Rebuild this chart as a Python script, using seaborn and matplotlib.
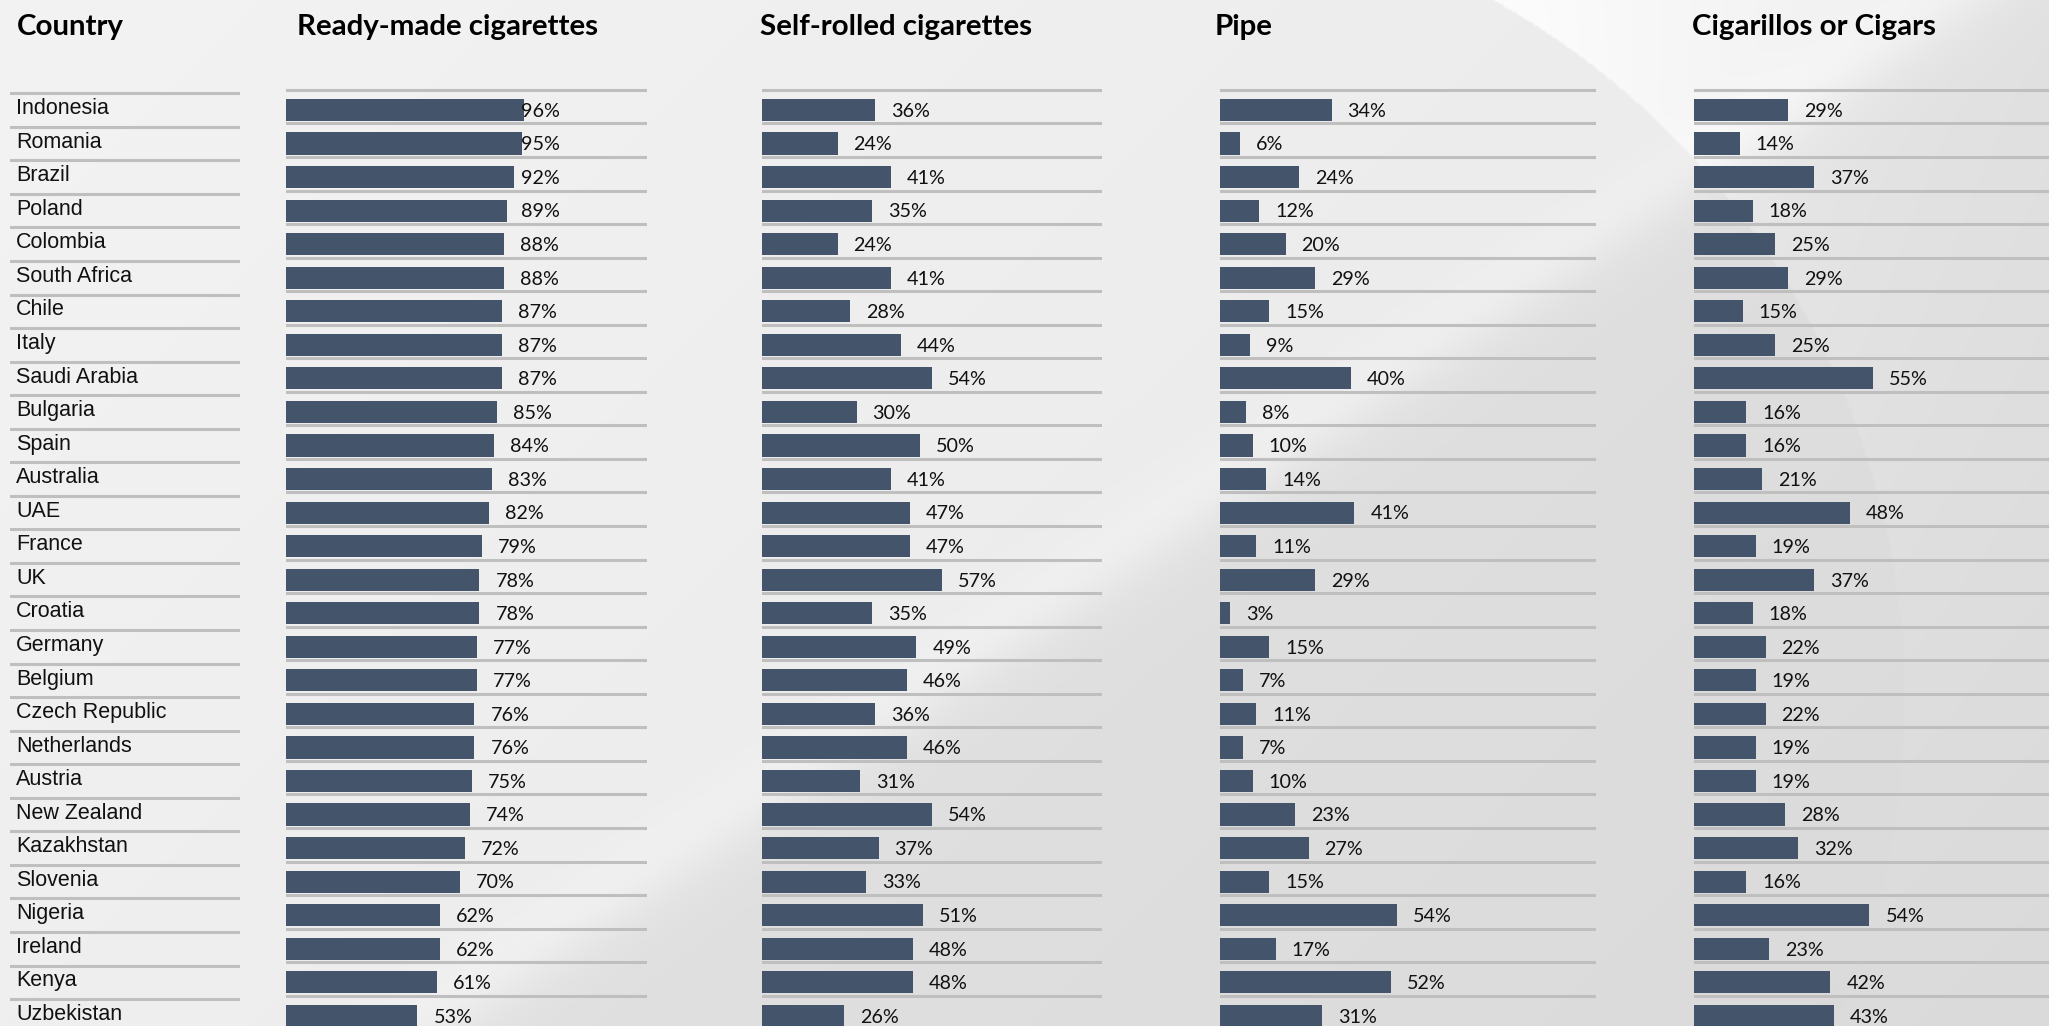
import numpy as np
import pandas as pd
import matplotlib
matplotlib.use("Agg")
import matplotlib.pyplot as plt
import seaborn as sns

# ---------------- data ----------------
countries = ["Indonesia", "Romania", "Brazil", "Poland", "Colombia", "South Africa", "Chile",
             "Italy", "Saudi Arabia", "Bulgaria", "Spain", "Australia", "UAE", "France", "UK",
             "Croatia", "Germany", "Belgium", "Czech Republic", "Netherlands", "Austria",
             "New Zealand", "Kazakhstan", "Slovenia", "Nigeria", "Ireland", "Kenya", "Uzbekistan"]
ready_made = [96, 95, 92, 89, 88, 88, 87, 87, 87, 85, 84, 83, 82, 79, 78, 78, 77, 77, 76, 76,
              75, 74, 72, 70, 62, 62, 61, 53]
self_rolled = [36, 24, 41, 35, 24, 41, 28, 44, 54, 30, 50, 41, 47, 47, 57, 35, 49, 46, 36, 46,
               31, 54, 37, 33, 51, 48, 48, 26]
pipe = [34, 6, 24, 12, 20, 29, 15, 9, 40, 8, 10, 14, 41, 11, 29, 3, 15, 7, 11, 7,
        10, 23, 27, 15, 54, 17, 52, 31]
cigars = [29, 14, 37, 18, 25, 29, 15, 25, 55, 16, 16, 21, 48, 19, 37, 18, 22, 19, 22, 19,
          19, 28, 32, 16, 54, 23, 42, 43]
headers = ["Ready-made cigarettes", "Self-rolled cigarettes", "Pipe", "Cigarillos or Cigars"]
country_header = "Country"
series = [ready_made, self_rolled, pipe, cigars]

# ---------------- layout ----------------
W, H = 2049, 1026
sns.set_theme(style="white")
plt.rcParams["font.family"] = ["DejaVu Sans"]
fig = plt.figure(figsize=(W / 100, H / 100), dpi=100)

BAR = "#44546A"
LINE = "#bfbfbf"

# background (decorative gradient with light swoosh)
h2, w2 = H // 2, W // 2
ys, xs = np.mgrid[0:h2, 0:w2].astype(float) * 2.0
base = 243.0 - 8.0 * (xs / W) - 4.0 * (ys / H)
ux, uy = 876.0, 1300.0
nrm = np.hypot(ux, uy)
s = ((xs - 450.0) * ux + (ys - 1026.0) * uy) / nrm
base += -13.0 / (1.0 + np.exp(-s / 20.0))
base += 5.0 * np.exp(-((s + 25.0) / 35.0) ** 2)
r = np.hypot(xs - 1100.0, ys - 700.0) - 803.0
xmask = 1.0 / (1.0 + np.exp(-(xs - 1420.0) / 30.0))
arc = np.where(r > 0, np.exp(-r / 220.0), 0.0) * np.exp(-ys / 320.0) * xmask
base += 16.0 * arc
base = np.clip(base, 0, 255) / 255.0
bg = np.dstack([base, base, base])
bax = fig.add_axes([0, 0, 1, 1], zorder=-10)
bax.imshow(bg, extent=[0, W, H, 0], aspect="auto", interpolation="bilinear")
bax.set_xlim(0, W)
bax.set_ylim(H, 0)
bax.axis("off")

n = len(countries)
row_c0 = 110.0
row_h = 33.55
top_px = row_c0 - 1.0 * row_h
bot_px = row_c0 + n * row_h
ax_b = 1 - bot_px / H
ax_h = (bot_px - top_px) / H

# country column
cax = fig.add_axes([10 / W, ax_b, (240 - 10) / W, ax_h])
cax.set_xlim(0, 230)
cax.set_ylim(n, -1)
cax.axis("off")
for k in range(n + 1):
    cax.axhline(k - 0.5, color=LINE, lw=2.2, zorder=1)
for i, c in enumerate(countries):
    cax.text(6, i - 0.04, c, ha="left", va="center", fontsize=15.5,
             family="Liberation Sans", color="#111111")

# panels: left px, right px, px per percent, label clamp (data units)
panels = [(286, 647, 2.48, 94.8), (762, 1102, 3.15, None),
          (1220, 1596, 3.28, None), (1694, 2070, 3.25, None)]
gap_px = 16
for (l, rr, ppp, clamp), vals in zip(panels, series):
    ax = fig.add_axes([l / W, ax_b, (rr - l) / W, ax_h])
    df = pd.DataFrame({"country": countries, "value": vals})
    sns.barplot(data=df, y="country", x="value", orient="h", color=BAR, saturation=1,
                width=0.66, ax=ax, zorder=3, linewidth=0)
    ax.set_xlim(0, (rr - l) / ppp)
    ax.set_ylim(n, -1)
    ax.axis("off")
    for k in range(n + 1):
        ax.axhline(k - 0.6, color=LINE, lw=2.2, zorder=1)
    for i, v in enumerate(vals):
        xl = v + gap_px / ppp
        if clamp is not None:
            xl = min(xl, clamp)
        ax.text(xl, i + 0.04, f"{v}%", ha="left", va="center", fontsize=14.2,
                family="Lato", color="#111111", zorder=4)

# headers
hdr_pos = [(17, country_header, 106), (297, headers[0], 303), (760, headers[1], 273),
           (1215, headers[2], 56), (1692, headers[3], 280)]
fig.canvas.draw()
renderer = fig.canvas.get_renderer()
sizes = []
for x, t, tw in hdr_pos:
    tt = fig.text(0, 0, t, fontsize=20, family="Lato", fontweight="bold")
    w = tt.get_window_extent(renderer).width
    sizes.append(20 * tw / w)
    tt.remove()
hs = float(np.median(sizes))
for x, t, tw in hdr_pos:
    fig.text(x / W, 1 - 35 / H, t, ha="left", va="baseline", fontsize=hs,
             family="Lato", fontweight="bold", color="#000000")

fig.savefig("out.png", dpi=100)
